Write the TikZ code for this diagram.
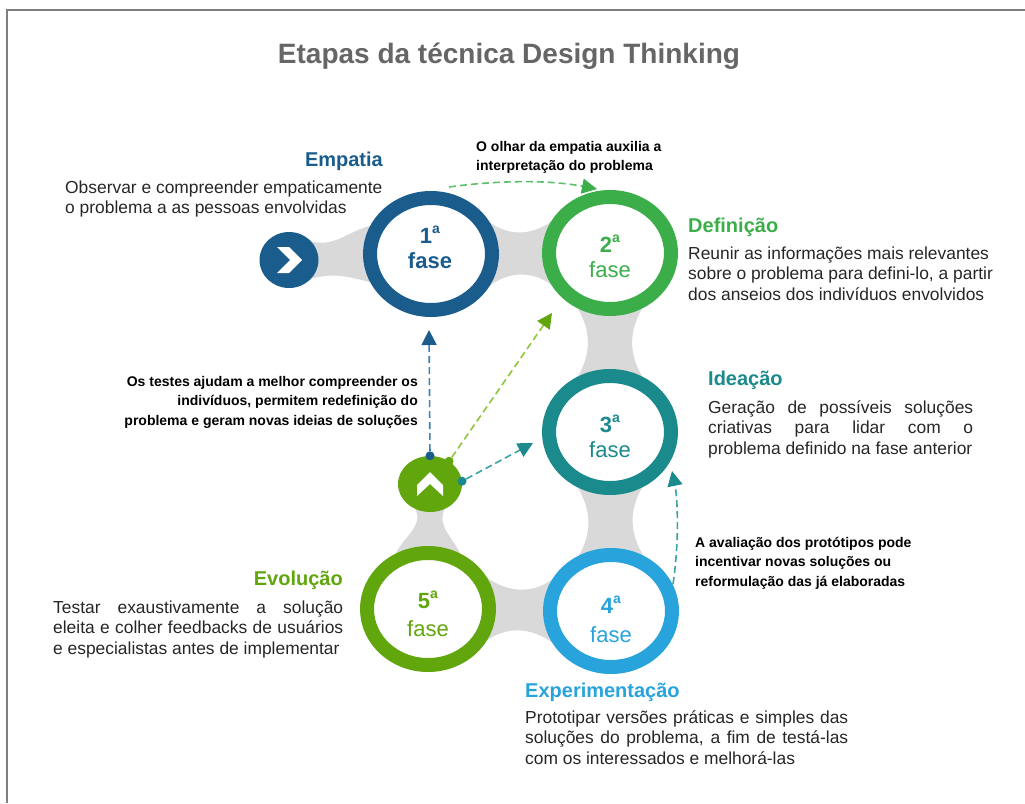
\documentclass[tikz,border=0pt]{standalone}
\usepackage{fontspec}
\setmainfont{Liberation Sans}
\usetikzlibrary{shapes.geometric,arrows.meta,backgrounds}

\definecolor{azulEsc}{HTML}{1A5C8C}
\definecolor{verde}{HTML}{3BAE4A}
\definecolor{petroleo}{HTML}{1B8A8C}
\definecolor{azulCl}{HTML}{29A3DB}
\definecolor{oliva}{HTML}{62A60E}
\definecolor{cinzaPonte}{HTML}{D9D9D9}
\definecolor{cinzaTit}{HTML}{666666}
\definecolor{verdeTrac}{HTML}{5CBF6A}
\definecolor{limaTrac}{HTML}{8DC63F}
\definecolor{azulTrac}{HTML}{3D7FB8}
\definecolor{petroleoTrac}{HTML}{3AA3A3}
\definecolor{moldura}{HTML}{7F7F7F}

\newcommand{\fonteTitulo}{\fontsize{28}{32}\selectfont\bfseries}
\newcommand{\fonteCab}{\fontsize{20}{24}\selectfont\bfseries}
\newcommand{\fonteCorpo}{\fontsize{17.4}{20.8}\selectfont}
\newcommand{\fonteNota}{\fontsize{14}{19.5}\selectfont\bfseries}
\newcommand{\fonteFase}{\fontsize{22}{26}\selectfont}
\newcommand{\ordA}{\raisebox{0.42em}{\fontsize{14}{14}\selectfont\bfseries a}}

\begin{document}
\begin{tikzpicture}[x=1pt, y=-1pt,
    fase/.style={ellipse, draw=#1, fill=white, line width=14pt, minimum width=122pt, minimum height=112pt, inner sep=0pt},
    botao/.style={ellipse, fill=#1, minimum width=59pt, minimum height=56pt, inner sep=0pt},
    ponte/.style={fill=cinzaPonte},
    ponto/.style={circle, fill=#1, inner sep=0pt, minimum size=9pt},
    seta/.style={line width=1.6pt, dash pattern=on 7pt off 4pt, -{Triangle[length=15pt,width=15pt,color=#1]}},
    cab/.style={inner sep=0pt, font=\fonteCab},
    corpo/.style={anchor=base west, inner sep=0pt, font=\fonteCorpo, text=black!85},
    nota/.style={inner sep=0pt, font=\fonteNota},
    num/.style={anchor=base, inner sep=0pt, font=\fonteFase\bfseries}]
        \useasboundingbox (0,0) rectangle (1025,803);

        % Moldura
        \draw[moldura, line width=1.2pt] (7,803) -- (7,10) -- (1025,10);

        \node[cab, anchor=base, text=cinzaTit, font=\fonteTitulo] (titulo) at (509,63) {Etapas da técnica Design Thinking};

        % Fases
        \node[botao=azulEsc] (inicio) at (289,260) {};
        \node[fase=azulEsc] (f1) at (431,254) {};
        \node[fase=verde]   (f2) at (610,253) {};
        \node[fase=petroleo] (f3) at (610,432) {};
        \node[fase=azulCl]  (f4) at (611,611) {};
        \node[fase=oliva]   (f5) at (428,609) {};
        \node[botao=oliva, minimum width=64pt, minimum height=56pt] (evol) at (430,484) {};

        % Pontes cinzentas
        \begin{scope}[on background layer]
            \fill[ponte] (inicio.40) to[out=-15,in=195] (f1.155) -- (f1.205) to[out=165,in=15] (inicio.-40) -- cycle;
            \fill[ponte] (f1.28) to[out=-35,in=215] (f2.152) -- (f2.208) to[out=145,in=35] (f1.-28) -- cycle;
            \fill[ponte] (f2.-60) to[out=-120,in=120] (f3.60) -- (f3.120) to[out=60,in=-60] (f2.-120) -- cycle;
            \fill[ponte] (f3.-60) to[out=-120,in=120] (f4.60) -- (f4.120) to[out=60,in=-60] (f3.-120) -- cycle;
            \fill[ponte] (f5.28) to[out=-35,in=215] (f4.152) -- (f4.208) to[out=145,in=35] (f5.-28) -- cycle;
            \fill[ponte] (evol.-60) to[out=-115,in=115] (f5.60) -- (f5.120) to[out=65,in=-65] (evol.-120) -- cycle;
        \end{scope}

        % Setas brancas nos botoes
        \fill[white] (277,247) -- (289,247) -- (302,260) -- (289,273) -- (277,273) -- (290,260) -- cycle;
        \fill[white] (430,472) -- (443,485) -- (443,496) -- (430,484) -- (417,496) -- (417,485) -- cycle;

        % Numeros das fases
        \node[num, text=azulEsc] (n1) at (430,243) {1\ordA};
        \node[num, text=azulEsc] (fase1) at (430,268) {fase};
        \node[num, text=verde] (n2) at (610,252) {2\ordA};
        \node[num, text=verde, font=\fonteFase] (fase2) at (610,277) {fase};
        \node[num, text=petroleo] (n3) at (610,432) {3\ordA};
        \node[num, text=petroleo, font=\fonteFase] (fase3) at (610,457) {fase};
        \node[num, text=azulCl] (n4) at (611,613) {4\ordA};
        \node[num, text=azulCl, font=\fonteFase] (fase4) at (611,642) {fase};
        \node[num, text=oliva] (n5) at (428,608) {5\ordA};
        \node[num, text=oliva, font=\fonteFase] (fase5) at (428,636) {fase};

        % Titulos e textos
        \node[cab, anchor=base east, text=azulEsc] (empatia) at (383,166) {Empatia};
        \node[corpo] (txtEmpatia) at (65,193) {\parbox[t]{330pt}{Observar e compreender empaticamente\\o problema a as pessoas envolvidas}};
        \node[cab, anchor=base west, text=verde] (definicao) at (688,232) {Definição};
        \node[corpo] (txtDefinicao) at (688,259) {\parbox[t]{330pt}{Reunir as informações mais relevantes\\sobre o problema para defini-lo, a partir\\dos anseios dos indivíduos envolvidos}};
        \node[cab, anchor=base west, text=petroleo] (ideacao) at (708,385) {Ideação};
        \node[corpo] (txtIdeacao) at (708,413) {\parbox[t]{265pt}{\makebox[265pt][s]{Geração de possíveis soluções}\\\makebox[265pt][s]{criativas para lidar com o}\\problema definido na fase anterior}};
        \node[cab, anchor=base east, text=oliva] (evolucao) at (343,585) {Evolução};
        \node[corpo] (txtEvolucao) at (53,613) {\parbox[t]{290pt}{\makebox[290pt][s]{Testar exaustivamente a solução}\\\makebox[290pt][s]{eleita e colher feedbacks de usuários}\\e especialistas antes de implementar}};
        \node[cab, anchor=base west, text=azulCl] (experim) at (525,697) {Experimentação};
        \node[corpo] (txtExperim) at (525,723) {\parbox[t]{323pt}{\makebox[323pt][s]{Prototipar versões práticas e simples das}\\\makebox[323pt][s]{soluções do problema, a fim de testá-las}\\com os interessados e melhorá-las}};

        % Notas
        \node[nota, anchor=base west] (notaEmpatia) at (476,151) {\parbox[t]{220pt}{O olhar da empatia auxilia a\\interpretação do problema}};
        \node[nota, anchor=base east] (notaTestes) at (418,386) {\parbox[t]{300pt}{\raggedleft Os testes ajudam a melhor compreender os\\indivíduos, permitem redefinição do\\problema e geram novas ideias de soluções}};
        \node[nota, anchor=base west] (notaAval) at (695,547) {\parbox[t]{240pt}{A avaliação dos protótipos pode\\incentivar novas soluções ou\\reformulação das já elaboradas}};

        % Setas tracejadas
        \coordinate (origEmp) at (449,187);
        \coordinate (pontaEmp) at (597,189);
        \draw[seta=verde, verdeTrac] (origEmp) .. controls (500,180) and (550,180) .. (pontaEmp);

        \node[ponto=azulEsc] (pAzul) at (evol.90) {};
        \node[ponto=oliva] (pVerde) at (evol.50) {};
        \node[ponto=petroleo] (pPetr) at (evol.5) {};
        \coordinate (pontaAzul) at (429,330);
        \coordinate (pontaVerde) at (552,313);
        \coordinate (pontaPetr) at (533,443);
        \draw[seta=azulEsc, azulTrac] (pAzul) -- (pontaAzul);
        \draw[seta=oliva, limaTrac] (pVerde) -- (pontaVerde);
        \draw[seta=petroleo, petroleoTrac] (pPetr) -- (pontaPetr);

        \coordinate (origAval) at (673,584);
        \coordinate (pontaAval) at (672,471);
        \draw[seta=petroleo, petroleoTrac] (origAval) .. controls (679,545) and (678,500) .. (pontaAval);
    \end{tikzpicture}
\end{document}
